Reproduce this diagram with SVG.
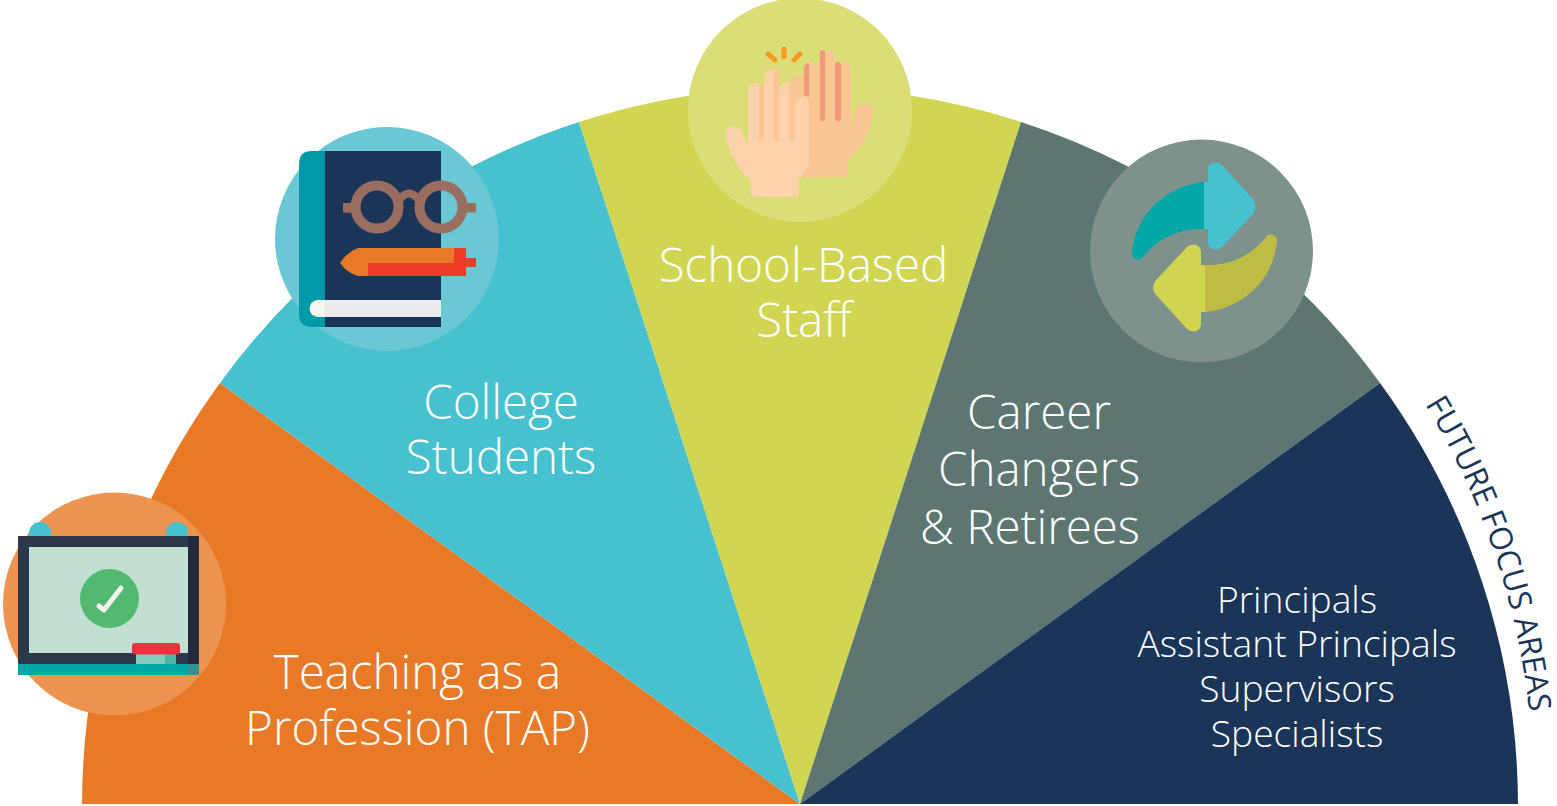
<svg xmlns="http://www.w3.org/2000/svg" width="1557" height="806" viewBox="0 0 1557 806">
<style>
text{font-family:"Open Sans","Noto Sans","Liberation Sans",sans-serif;font-weight:300;fill:#fff;text-anchor:middle}
.big{font-size:47.500px}
.small{font-size:37.200px}
.arc{font-size:31.500px;fill:#1b3559;text-anchor:start;font-weight:400}
.bar{fill:#9a6e5e}
.fg{stroke:#9a6e5e;stroke-width:10;fill:none}
.l{fill:#fcd3aa}.r{fill:#f9c592}.d{fill:#f19a7a}
.spark{stroke:#f7991f;stroke-width:5;stroke-linecap:round;fill:none}
</style>
<defs>
<path id="arcText" d="M1425,404 A750,750 0 0 1 1533,760" fill="none"/>
<path id="tail" d="M1204,182 C1165,186 1136,215 1132,252 C1131,259 1139,262 1143,257 C1158,238 1180,228 1204,229 Z"/>
<path id="head" d="M1204,182 H1208 V170 C1208,163 1216,160 1222,165 L1252,198 C1257,203 1257,210 1252,215 L1222,247 C1216,252 1208,249 1208,242 V229 H1204 Z"/>
</defs>

<g id="tap">
<path d="M800,804 L220,383 A717.500,717.500 0 0 0 82,804 Z" fill="#e87926"/>
<circle cx="114.500" cy="604" r="111.500" fill="#ed9450"/>
<circle cx="40" cy="533" r="11" fill="#47c1cf"/><circle cx="177" cy="533" r="11" fill="#47c1cf"/>
<rect x="18" y="536" width="181" height="128" rx="1" fill="#2c374b"/>
<rect x="188" y="536" width="11" height="128" fill="#232a3c"/>
<rect x="29" y="547" width="159" height="106" fill="#c1e0d1"/>
<circle cx="109.500" cy="598.500" r="29.500" fill="#52b970"/>
<path d="M99,606 L104,610 L121,588" fill="none" stroke="#f2f2f2" stroke-width="5" stroke-linecap="round" stroke-linejoin="round"/>
<rect x="136" y="654" width="40" height="11" fill="#85ccbc"/>
<rect x="165" y="654" width="11" height="11" fill="#4fb8a5"/>
<rect x="132" y="643" width="48" height="11.500" rx="3" fill="#f1303c"/>
<rect x="18" y="664" width="181" height="11" fill="#00a8a8"/>
<rect x="188" y="664" width="11" height="11" fill="#3a8f8f"/>
<text class="big" x="417.500" y="689">Teaching as a</text>
<text class="big" x="417.500" y="745">Profession (TAP)</text>
</g>

<g id="college">
<path d="M800,804 L579,122 A717.500,717.500 0 0 0 220,383 Z" fill="#47c1cf"/>
<circle cx="387" cy="239" r="112" fill="#69c8d3"/>
<path d="M325,151 H312 Q299,151 299,164 V314 Q299,327 312,327 H325 Z" fill="#0099a8"/>
<rect x="325" y="151" width="116" height="176" fill="#1b3559"/>
<path d="M325,300 H318 A8.500,8.500 0 0 0 318,317 H325 Z" fill="#f5f4ee"/>
<rect x="325" y="300" width="116" height="17" fill="#ecebec"/>
<circle class="fg" cx="377" cy="207" r="21.500"/>
<circle class="fg" cx="441" cy="207" r="21.500"/>
<path d="M400,199 Q409,188 418,199" fill="none" stroke="#9a6e5e" stroke-width="8"/>
<rect class="bar" x="343" y="203" width="10" height="9.500"/>
<rect class="bar" x="465" y="203" width="11" height="9.500"/>
<path d="M340,263 Q347,252 358,248 H454 V263 H368 V276 H358 Q347,273 340,263 Z" fill="#e87926"/>
<path d="M368,263 H454 V248 H466 V258 H476 V267 H466 V276 H368 Z" fill="#ef3a28"/>
<text class="big" x="501" y="419">College</text>
<text class="big" x="501" y="474">Students</text>
</g>

<g id="school">
<path d="M800,804 L1021,122 A717.500,717.500 0 0 0 579,122 Z" fill="#d1d652"/>
<circle cx="800" cy="110" r="112" fill="#dbde76"/>
<path class="spark" d="M784,49 V57 M768,54 L775,60 M800,54 L794,60"/>
<rect class="r" x="790" y="75" width="16" height="60" rx="8"/>
<path class="r" d="M804,70 A7.500,7.500 0 0 1 819,70 V58 A7.500,7.500 0 0 1 835,58 V70 A8,8 0 0 1 851,70 V125 L856,112 A6.500,6.500 0 0 1 873,113 C871,130 863,148 848,160 V172 Q848,177 843,177 H800 V120 H804 Z"/>
<rect class="d" x="820" y="50" width="5" height="71" rx="2.500"/>
<rect class="d" x="835" y="62" width="6" height="59" rx="3"/>
<path class="d" d="M804,70 A6,6 0 0 1 809,63 V96 H804 Z"/>
<path class="l" d="M748,91 A7.500,7.500 0 0 1 764,91 V77 A7.500,7.500 0 0 1 779,77 V90 A6,6 0 0 1 795,91 V104 A7,7 0 0 1 809,104 V162 Q809,168 799,180 V192 Q799,197 794,197 H756 Q751,197 751,192 V180 C738,170 730,155 726,138 A7.500,7.500 0 0 1 741,131 L748,147 Z"/>
<rect class="r" x="759" y="84" width="5" height="57" rx="2.500"/>
<rect class="r" x="774" y="70" width="5" height="71" rx="2.500"/>
<rect class="r" x="789" y="84" width="6" height="57" rx="3"/>
<text class="big" x="803.500" y="282">School-Based</text>
<text class="big" x="804" y="337">Staff</text>
</g>

<g id="career">
<path d="M800,804 L1380,383 A717.500,717.500 0 0 0 1021,122 Z" fill="#5d7672"/>
<circle cx="1201.500" cy="251" r="111.500" fill="#7d918d"/>
<use href="#tail" fill="#00a8a8"/>
<use href="#head" fill="#46c1cf"/>
<g transform="rotate(180 1204.500 247)">
<use href="#tail" fill="#bfbc45"/>
<use href="#head" fill="#d0d44e"/>
</g>
<text class="big" x="1039" y="429">Career</text>
<text class="big" x="1039" y="486">Changers</text>
<text class="big" x="1030" y="544">&amp; Retirees</text>
</g>

<g id="future">
<path d="M800,804 H1518 A717.500,717.500 0 0 0 1380,383 Z" fill="#1b3559"/>
<text class="small" x="1297" y="612.500">Principals</text>
<text class="small" x="1297" y="657">Assistant Principals</text>
<text class="small" x="1297" y="701.500">Supervisors</text>
<text class="small" x="1297" y="747">Specialists</text>
<text class="arc"><textPath href="#arcText">FUTURE FOCUS AREAS</textPath></text>
</g>
<g id="connectors"></g>
</svg>
